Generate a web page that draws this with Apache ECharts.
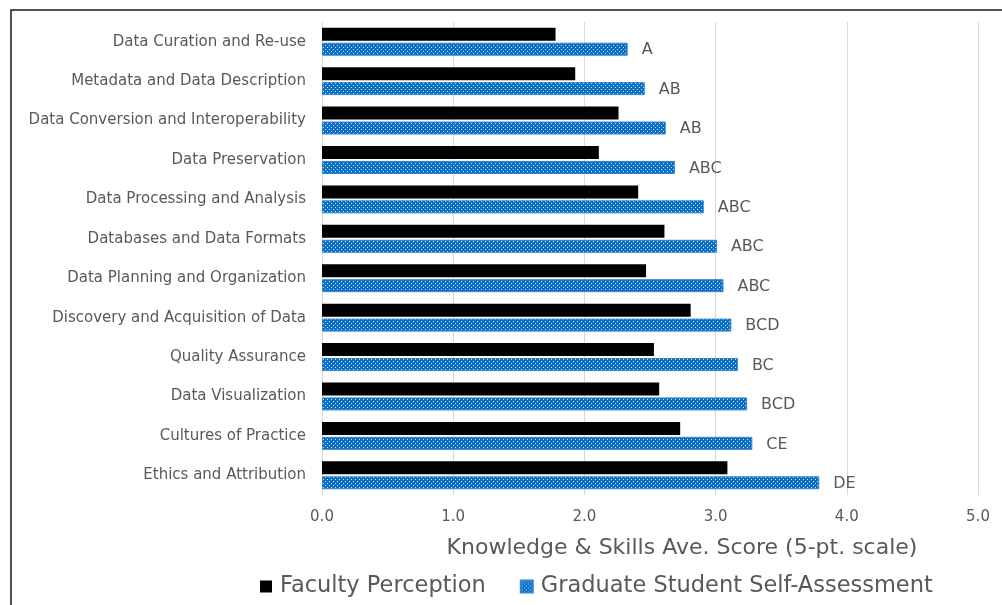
<!DOCTYPE html>
<html>
<head>
<meta charset="utf-8">
<script src="https://cdn.jsdelivr.net/npm/echarts@6/dist/echarts.min.js"></script>
<style>
  html, body { margin: 0; padding: 0; background: #fff; }
  #main { width: 1002px; height: 605px; }
</style>
</head>
<body>
<div id="main"></div>
<script>
  var categories = [
    'Data Curation and Re-use',
    'Metadata and Data Description',
    'Data Conversion and Interoperability',
    'Data Preservation',
    'Data Processing and Analysis',
    'Databases and Data Formats',
    'Data Planning and Organization',
    'Discovery and Acquisition of Data',
    'Quality Assurance',
    'Data Visualization',
    'Cultures of Practice',
    'Ethics and Attribution'
  ]
  var facultyScores = [1.78, 1.93, 2.26, 2.11, 2.41, 2.61, 2.47, 2.81, 2.53, 2.57, 2.73, 3.09]
  var studentScores = [2.33, 2.46, 2.62, 2.69, 2.91, 3.01, 3.06, 3.12, 3.17, 3.24, 3.28, 3.79]
  var groupLetters = ['A', 'AB', 'AB', 'ABC', 'ABC', 'ABC', 'ABC', 'BCD', 'BC', 'BCD', 'CE', 'DE']
  var xTicks = ['0.0', '1.0', '2.0', '3.0', '4.0', '5.0']

  // dotted blue fill like the excel pattern
  function dotPattern () {
    var c = document.createElement('canvas')
    c.width = 4
    c.height = 4
    var ctx = c.getContext('2d')
    ctx.fillStyle = '#0b6fc6'
    ctx.fillRect(0, 0, 4, 4)
    ctx.fillStyle = '#cfe4f7'
    ctx.fillRect(1, 1, 1, 1)
    ctx.fillRect(3, 3, 1, 1)
    return c
  }

  var gray = '#595959'
  var myChart = echarts.init(document.getElementById('main'))
  myChart.setOption({
    animation: false,
    textStyle: { fontFamily: 'DejaVu Sans' },
    graphic: [{
      type: 'rect',
      shape: { x: 11, y: 10, width: 1100, height: 700 },
      style: { fill: 'none', stroke: '#1a1a1a', lineWidth: 1.5 },
      silent: true
    }],
    legend: {
      bottom: 2,
      left: 255,
      itemWidth: 12,
      itemHeight: 12,
      itemGap: 34,
      textStyle: { fontSize: 22.5, color: gray, padding: [0, 0, 0, 3] },
      data: [
        { name: 'Faculty Perception', icon: 'rect' },
        { name: 'Graduate Student Self-Assessment', icon: 'rect' }
      ]
    },
    grid: { left: 322, right: 24, top: 22, bottom: 110 },
    xAxis: {
      type: 'value',
      min: 0,
      max: 5,
      interval: 1,
      name: 'Knowledge & Skills Ave. Score (5-pt. scale)',
      nameLocation: 'middle',
      nameGap: 42,
      nameTextStyle: { fontSize: 22, color: gray, padding: [0, 0, 0, 64] },
      axisLine: { show: false },
      axisTick: { show: false },
      axisLabel: {
        margin: 15,
        fontSize: 15,
        color: gray,
        formatter: function (v) { return xTicks[Math.round(v)] }
      },
      splitLine: { lineStyle: { color: '#d9d9d9', width: 1 } }
    },
    yAxis: {
      type: 'category',
      inverse: true,
      data: categories,
      axisLine: { show: false },
      axisTick: { show: false },
      axisLabel: { margin: 16, fontSize: 15, color: gray }
    },
    series: [{
      name: 'Faculty Perception',
      type: 'bar',
      data: facultyScores,
      barWidth: 13,
      barGap: '15%',
      itemStyle: { color: '#000' }
    }, {
      name: 'Graduate Student Self-Assessment',
      type: 'bar',
      data: studentScores,
      barWidth: 13,
      itemStyle: {
        color: { image: dotPattern(), repeat: 'repeat' },
        borderColor: '#2f86d6',
        borderWidth: 1
      },
      label: {
        show: true,
        position: 'right',
        distance: 14,
        fontSize: 16,
        color: gray,
        offset: [0, 1],
        formatter: function (p) { return groupLetters[p.dataIndex] }
      }
    }]
  })
</script>
</body>
</html>
